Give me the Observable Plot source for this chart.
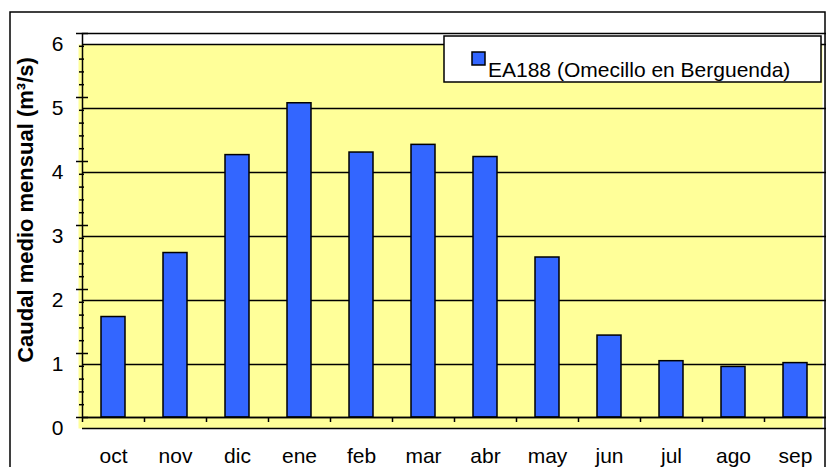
<!DOCTYPE html>
<html>
<head>
<meta charset="utf-8">
<script src="https://cdn.jsdelivr.net/npm/d3@7"></script>
<script src="https://cdn.jsdelivr.net/npm/@observablehq/plot@0.6"></script>
<style>
  html, body { margin: 0; padding: 0; background: white; }
  #chart { width: 826px; height: 467px; overflow: hidden; }
</style>
</head>
<body>
<div id="chart"></div>
<script>
const months = ["oct", "nov", "dic", "ene", "feb", "mar", "abr", "may", "jun", "jul", "ago", "sep"];
const caudal = [1.57, 2.57, 4.10, 4.91, 4.14, 4.26, 4.07, 2.50, 1.28, 0.88, 0.79, 0.85];
const seriesName = "EA188 (Omecillo en Berguenda)";
const yTitle = "Caudal medio mensual (m³/s)";
const yTicks = [0, 1, 2, 3, 4, 5, 6];
const yMinorTicks = [0.2,0.4,0.6,0.8,1.2,1.4,1.6,1.8,2.2,2.4,2.6,2.8,3.2,3.4,3.6,3.8,4.2,4.4,4.6,4.8,5.2,5.4,5.6,5.8];

const data = months.map((m, i) => ({month: m, value: caudal[i]}));
const font = "'Liberation Sans', Arial, sans-serif";

const plot = Plot.plot({
  width: 826,
  height: 467,
  marginLeft: 82,
  marginRight: 0,
  marginTop: 33,
  marginBottom: 50,
  style: {fontFamily: font, fontSize: "21px", background: "white", color: "black", overflow: "visible"},
  x: {domain: months, paddingInner: 0.61, paddingOuter: 0.305},
  y: {domain: [0, 6]},
  marks: [
    Plot.frame({fill: "#FFFF99", stroke: null, dx: -4, dy: 11}),
    Plot.ruleY(yTicks, {stroke: "black", strokeWidth: 1.5, dy: 11}),
    Plot.barY(data, {x: "month", y: "value", fill: "#3366FF", stroke: "black", strokeWidth: 1.5}),
    Plot.frame({stroke: "black", strokeWidth: 1.5}),
    Plot.ruleY([0], {stroke: "black", strokeWidth: 1.5}),
    Plot.axisY({ticks: yTicks, tickSize: 12, dx: 6, fill: "none", strokeWidth: 1.5, label: null}),
    Plot.axisY({ticks: yMinorTicks, tickSize: 5, dx: 2, fill: "none", strokeWidth: 1.5, label: null}),
    Plot.axisY({ticks: yTicks, tickFormat: d => String(d), tickSize: 0, tickPadding: 19, dy: 11, fontSize: 21, label: null}),
    Plot.axisX({tickSize: 5, dx: -31, fill: "none", strokeWidth: 1.5, label: null}),
    Plot.axisX({tickSize: 0, tickPadding: 31, fontSize: 21, label: null})
  ]
});

document.getElementById("chart").appendChild(plot);

const svg = d3.select(plot);
// outer chart border
svg.append("rect")
  .attr("x", 10).attr("y", 12).attr("width", 815).attr("height", 480)
  .attr("fill", "none").attr("stroke", "black").attr("stroke-width", 1.5);

// y-axis title
svg.append("text")
  .attr("transform", "translate(33,210) rotate(-90)")
  .attr("text-anchor", "middle")
  .attr("font-family", font)
  .attr("font-weight", "bold")
  .attr("font-size", 22)
  .attr("fill", "black")
  .text(yTitle);

// legend
const lg = svg.append("g");
lg.append("rect")
  .attr("x", 444).attr("y", 36).attr("width", 377).attr("height", 46)
  .attr("fill", "white").attr("stroke", "black").attr("stroke-width", 1.5);
lg.append("rect")
  .attr("x", 472).attr("y", 52).attr("width", 13).attr("height", 13)
  .attr("fill", "#3366FF").attr("stroke", "black").attr("stroke-width", 1.5);
lg.append("text")
  .attr("x", 488).attr("y", 77)
  .attr("text-anchor", "start")
  .attr("font-family", font)
  .attr("font-size", 21)
  .attr("fill", "black")
  .text(seriesName);
</script>
</body>
</html>
